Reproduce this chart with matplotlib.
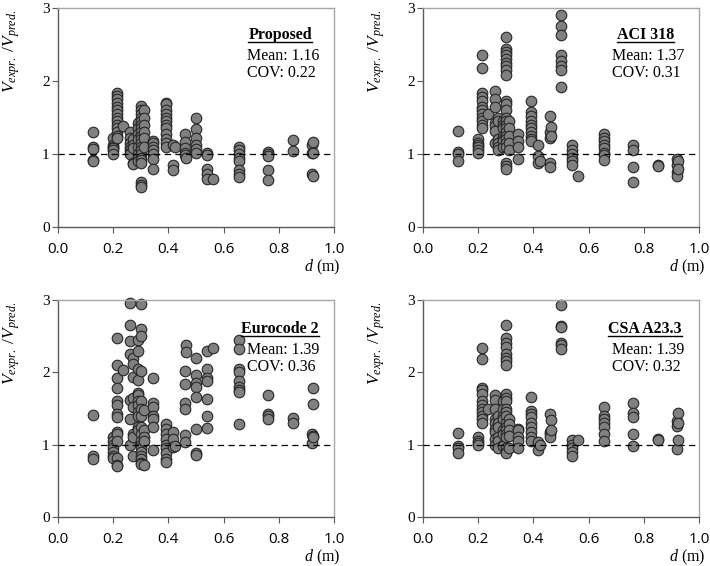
import matplotlib
matplotlib.use("Agg")
import matplotlib.pyplot as plt
from matplotlib.lines import Line2D

# effective depth of each specimen group (m)
depth = [0.125, 0.2, 0.215, 0.235, 0.26, 0.27, 0.29, 0.3, 0.31, 0.345, 0.39,
         0.415, 0.425, 0.46, 0.465, 0.5, 0.54, 0.56, 0.655, 0.76, 0.85, 0.92, 0.925]

# Vexpr./Vpred., one list per depth group
proposed = [
    [1.30, 1.10, 1.07, 0.92, 0.90],
    [1.22, 1.12, 1.10, 1.08, 1.05, 1.00],
    [1.84, 1.80, 1.75, 1.70, 1.65, 1.60, 1.55, 1.50, 1.45, 1.40, 1.35, 1.30, 1.25, 1.22],
    [1.38],
    [1.30, 1.22, 1.15, 1.10, 1.05, 1.02, 1.00],
    [1.20, 1.12, 1.08, 0.88, 0.86],
    [1.42, 1.35, 1.28, 1.20, 1.10, 1.00, 0.95, 0.90],
    [1.66, 1.60, 1.55, 1.50, 1.45, 1.40, 1.35, 1.30, 1.25, 1.20, 1.15, 1.10, 1.05,
     1.00, 0.95, 0.92, 0.88, 0.62, 0.58, 0.55],
    [1.60, 1.50, 1.40, 1.30, 1.22, 1.10],
    [1.18, 1.15, 1.10, 1.05, 1.00, 0.93, 0.80],
    [1.70, 1.68, 1.60, 1.55, 1.50, 1.45, 1.40, 1.35, 1.28, 1.20, 1.15, 1.10],
    [1.12, 0.85, 0.78],
    [1.10],
    [1.27, 1.17, 1.08, 1.02, 0.98],
    [0.95],
    [1.50, 1.34, 1.22, 1.12, 1.07, 1.02],
    [1.01, 0.98, 0.80, 0.72, 0.66],
    [0.66],
    [1.10, 1.05, 1.00, 0.95, 0.90, 0.78, 0.72, 0.68],
    [1.03, 1.00, 0.97, 0.78, 0.64],
    [1.19, 1.04],
    [1.13, 1.01, 0.73],
    [1.16, 1.02, 0.70],
]

aci = [
    [1.32, 1.03, 1.00, 0.90],
    [1.20, 1.15, 1.12, 1.10, 1.05, 1.02],
    [2.35, 2.18, 1.84, 1.78, 1.72, 1.65, 1.60, 1.55, 1.50, 1.45, 1.40, 1.35],
    [1.55],
    [1.86, 1.75, 1.65, 1.42, 1.38, 1.32, 1.15],
    [1.50, 1.45, 1.20, 1.15, 1.10, 1.05],
    [1.45, 1.40, 1.35, 1.25, 1.20, 1.18, 1.10],
    [2.60, 2.44, 2.40, 2.35, 2.30, 2.25, 2.20, 2.15, 2.08, 1.72, 1.68, 1.60, 1.50,
     1.45, 1.40, 1.35, 1.30, 1.25, 1.20, 1.15, 1.10, 0.88, 0.83, 0.80],
    [1.45, 1.35, 1.25, 1.15, 1.05],
    [1.28, 1.18, 1.10, 0.93],
    [1.73, 1.58, 1.52, 1.45, 1.40, 1.35, 1.30, 1.25, 1.20, 1.18],
    [1.12, 0.97, 0.88],
    [0.90],
    [1.52, 1.30, 1.22, 0.88, 0.82],
    [1.37, 1.25],
    [2.90, 2.75, 2.63, 2.35, 2.27, 2.20, 2.15, 1.92],
    [1.12, 1.05, 1.00, 0.95, 0.90, 0.85],
    [0.70],
    [1.28, 1.22, 1.18, 1.12, 1.08, 1.02, 0.98, 0.92],
    [1.12, 1.05, 0.82, 0.62],
    [0.85, 0.83],
    [0.93, 0.85, 0.75, 0.70],
    [0.90, 0.80],
]

eurocode = [
    [1.41, 0.84, 0.80],
    [1.10, 1.05, 1.00, 0.95, 0.90, 0.85, 0.82],
    [2.47, 2.10, 1.92, 1.78, 1.60, 1.55, 1.42, 1.38, 1.18, 1.15, 1.05, 0.82, 0.72, 0.70],
    [2.03],
    [2.96, 2.66, 2.43, 2.25, 1.62, 1.36, 1.00],
    [2.20, 2.12, 1.94, 1.65, 1.52, 1.15, 1.10, 0.84],
    [2.45, 2.30, 2.05, 1.90, 1.72, 1.68, 1.60, 1.55, 1.45, 1.40, 1.25, 1.20],
    [2.94, 2.60, 2.50, 2.02, 1.60, 1.50, 1.40, 1.25, 1.15, 1.05, 1.00, 0.95, 0.90,
     0.85, 0.80, 0.75, 0.73],
    [1.48, 1.20, 1.10, 1.05, 0.72],
    [1.92, 1.57, 1.52, 1.40, 1.35, 1.24, 0.93],
    [1.28, 1.22, 1.15, 1.08, 1.00, 0.95, 0.88, 0.80, 0.76],
    [1.18, 1.08, 0.97],
    [0.98],
    [2.02, 1.84, 1.58, 1.50, 1.13, 1.03],
    [2.38, 2.28],
    [2.20, 1.96, 1.85, 1.80, 1.66, 1.21, 0.88, 0.86],
    [2.30, 2.05, 1.92, 1.88, 1.63, 1.39, 1.23],
    [2.33],
    [2.45, 2.32, 2.05, 2.00, 1.88, 1.80, 1.76, 1.73, 1.28],
    [1.68, 1.43, 1.40, 1.35],
    [1.37, 1.30],
    [1.15, 1.02],
    [1.78, 1.56, 1.12, 1.10],
]

csa = [
    [1.16, 0.98, 0.95, 0.88],
    [1.10, 1.05, 1.02, 1.00],
    [2.33, 2.18, 1.79, 1.75, 1.70, 1.60, 1.55, 1.50, 1.45, 1.40, 1.35, 1.30],
    [1.50],
    [1.68, 1.62, 1.50, 1.35, 1.30, 1.22, 1.18, 1.08, 1.00],
    [1.40, 1.30, 1.25, 1.10, 1.05, 0.95],
    [1.60, 1.50, 1.40, 1.35, 1.20, 1.15, 1.00, 0.98],
    [2.66, 2.48, 2.40, 2.35, 2.25, 2.20, 2.15, 2.10, 1.70, 1.65, 1.60, 1.50, 1.45,
     1.40, 1.30, 1.25, 1.20, 1.15, 1.10, 0.95, 0.90, 0.88],
    [1.35, 1.28, 1.20, 1.12, 0.95],
    [1.22, 1.20, 1.10, 1.05, 0.96],
    [1.66, 1.47, 1.43, 1.38, 1.30, 1.25, 1.18, 1.10, 1.05],
    [1.03, 0.93],
    [1.00],
    [1.43, 1.18, 1.15, 1.10],
    [1.34, 1.20],
    [2.93, 2.64, 2.62, 2.40, 2.38, 2.32],
    [1.07, 1.00, 0.95, 0.90, 0.85],
    [1.06],
    [1.52, 1.40, 1.35, 1.30, 1.25, 1.15, 1.05],
    [1.57, 1.44, 1.38, 1.15, 0.98],
    [1.08, 1.07],
    [1.33, 1.26, 0.94],
    [1.44, 1.30, 1.06],
]

panel_names = ["Proposed", "ACI 318", "Eurocode 2", "CSA A23.3"]
panel_means = ["1.16", "1.37", "1.39", "1.39"]
panel_covs = ["0.22", "0.31", "0.36", "0.32"]
x_ticks = [0.0, 0.2, 0.4, 0.6, 0.8, 1.0]
y_ticks = [0, 1, 2, 3]

plt.rcParams["mathtext.fontset"] = "custom"
plt.rcParams["mathtext.rm"] = "Liberation Serif"
plt.rcParams["mathtext.it"] = "Liberation Serif:italic"
plt.rcParams["mathtext.bf"] = "Liberation Serif:bold"

fig = plt.figure(figsize=(7.1, 5.66), dpi=100)
W, H = 710.0, 566.0
boxes = [(58, 8, 334, 227), (423, 8, 699, 227),
         (58, 300, 334, 517), (423, 300, 699, 517)]
series = [proposed, aci, eurocode, csa]

titles = []
for i, (x0, y0, x1, y1) in enumerate(boxes):
    ax = fig.add_axes([x0 / W, 1 - y1 / H, (x1 - x0) / W, (y1 - y0) / H])
    xs, ys = [], []
    for d, vals in zip(depth, series[i]):
        xs += [d] * len(vals)
        ys += vals
    ax.scatter(xs, ys, s=58, facecolor="#808080", edgecolor="#262626",
               linewidth=0.8, zorder=2, clip_on=False)
    ax.axhline(1.0, color="black", lw=0.9, ls=(0, (5, 3.5)), zorder=3)

    ax.set_xlim(0, 1.0)
    ax.set_ylim(0, 3)
    ax.set_xticks(x_ticks)
    ax.set_xticklabels([f"{t:.1f}" for t in x_ticks], fontfamily="Open Sans", fontsize=11)
    ax.set_yticks(y_ticks)
    ax.set_yticklabels([str(t) for t in y_ticks], fontfamily="Liberation Serif", fontsize=11)
    ax.tick_params(axis="x", direction="out", length=4, width=0.8, color="#595959", pad=6.5)
    ax.tick_params(axis="y", direction="out", length=4, width=0.8, color="#595959", pad=2)
    for side in ["left", "bottom"]:
        ax.spines[side].set_color("#595959")
        ax.spines[side].set_linewidth(1.0)
    for side in ["top", "right"]:
        ax.spines[side].set_color("#a6a6a6")
        ax.spines[side].set_linewidth(1.0)

    ax.set_ylabel(r"$V_{expr.}\ /V_{pred.}$", fontsize=12.5, loc="top")
    ax.yaxis.set_label_coords(-0.13, 0.995)
    ax.text(1.022, -0.185, r"$d$ (m)", transform=ax.transAxes, ha="right", va="center",
            fontfamily="Liberation Serif", fontsize=11.5)

    top_px = 27 if i < 2 else 29
    t = ax.text(0.805, 1 - top_px / (y1 - y0), panel_names[i], transform=ax.transAxes,
                ha="center", va="center", fontfamily="Liberation Serif",
                fontweight="bold", fontsize=11.5)
    titles.append(t)
    ax.text(0.686, 1 - (top_px + 21) / (y1 - y0), "Mean: " + panel_means[i],
            transform=ax.transAxes, ha="left", va="center",
            fontfamily="Liberation Serif", fontsize=11.5)
    ax.text(0.686, 1 - (top_px + 38) / (y1 - y0), "COV: " + panel_covs[i],
            transform=ax.transAxes, ha="left", va="center",
            fontfamily="Liberation Serif", fontsize=11.5)

# underline the panel titles
fig.canvas.draw()
renderer = fig.canvas.get_renderer()
inv = fig.transFigure.inverted()
for t in titles:
    bb = t.get_window_extent(renderer)
    (ax0, ay), (ax1, _) = inv.transform([(bb.x0, bb.y0 + 1), (bb.x1, bb.y0 + 1)])
    fig.add_artist(Line2D([ax0, ax1], [ay, ay], transform=fig.transFigure,
                          color="black", lw=1.0))

fig.savefig("out.png", dpi=100)
